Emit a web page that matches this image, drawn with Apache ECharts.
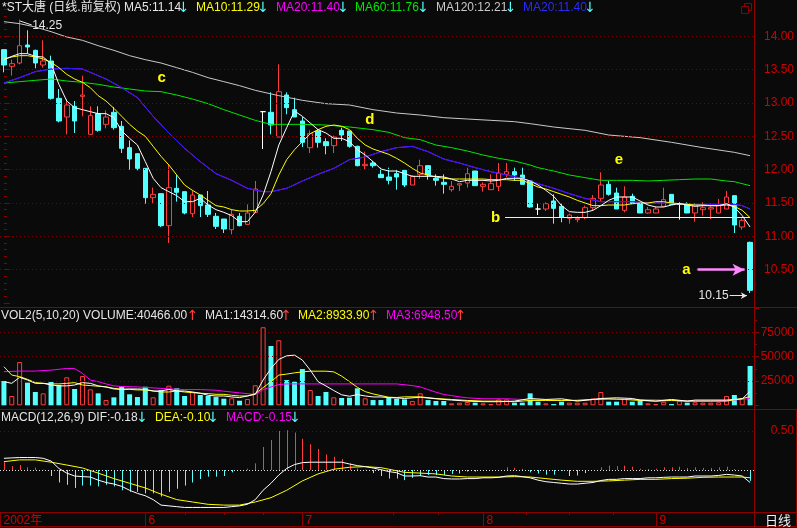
<!DOCTYPE html>
<html><head><meta charset="utf-8">
<script src="https://cdn.jsdelivr.net/npm/echarts@6/dist/echarts.min.js"></script>
<style>html,body{margin:0;padding:0;background:#0a0a0a;overflow:hidden}#c{width:797px;height:528px}</style>
</head><body><div id="c"></div>
<script>
// ---------- dates (trading days 2002) ----------
const mayDays = [8,9,10,13,14,15,16,17,20,21,22,23,24,27,28,29,30,31];
const junDays = [3,4,5,6,7,10,11,12,13,14,17,18,19,20,21,24,25,26,27,28];
const julDays = [1,2,3,4,5,8,9,10,11,12,15,16,17,18,19,22,23,24,25,26,29,30,31];
const augDays = [1,2,5,6,7,8,9,12,13,14,15,16,19,20,21,22,23,26,27,28,29,30];
const sepDays = [2,3,4,5,6,9,10,11,12,13,16,17,18];
const dates = [].concat(
  mayDays.map(d => '2002-05-' + d), junDays.map(d => '2002-06-' + d),
  julDays.map(d => '2002-07-' + d), augDays.map(d => '2002-08-' + d),
  sepDays.map(d => '2002-09-' + d));

// ---------- price OHLC ----------
const opens = [13.80,13.55,13.60,13.87,13.79,13.57,13.63,13.07,12.79,12.95,
  13.10,12.53,12.84,12.68,12.86,12.65,12.33,12.24,12.02,11.58,
  11.64,11.16,11.72,11.67,11.34,11.62,11.47,11.30,11.26,11.10,
  11.30,11.18,11.36,12.87,12.86,12.49,13.12,12.90,12.73,12.33,
  12.58,12.42,12.36,12.59,12.58,12.35,12.06,12.10,11.93,11.89,
  11.94,11.99,11.77,11.93,12.06,11.87,11.81,11.70,11.77,11.80,
  11.98,11.75,11.70,11.75,11.93,11.97,11.92,11.83,11.41,11.41,
  11.53,11.45,11.27,11.25,11.28,11.43,11.57,11.78,11.65,11.39,
  11.60,11.49,11.35,11.35,11.45,11.63,11.48,11.49,11.35,11.40,
  11.41,11.35,11.41,11.61,11.14,10.91];
const closes = [13.57,13.59,13.86,13.84,13.60,13.63,13.07,12.73,12.97,12.73,
  13.12,12.81,12.59,12.79,12.63,12.32,12.16,12.02,11.58,11.63,
  11.16,11.73,11.66,11.35,11.62,11.46,11.33,11.15,11.11,11.33,
  11.16,11.35,11.71,12.87,12.67,13.17,12.93,12.79,12.41,12.54,
  12.41,12.36,12.49,12.52,12.35,12.06,12.08,12.06,11.88,11.84,
  11.89,11.77,11.90,12.06,11.92,11.84,11.78,11.75,11.79,11.94,
  11.76,11.78,11.79,11.95,11.97,11.92,11.78,11.44,11.41,11.49,
  11.42,11.29,11.32,11.27,11.43,11.57,11.77,11.63,11.41,11.59,
  11.49,11.35,11.40,11.41,11.55,11.48,11.48,11.35,11.47,11.43,
  11.43,11.47,11.59,11.17,11.24,10.19];
const lows = [13.46,13.41,13.58,13.74,13.52,13.53,13.05,12.71,12.53,12.55,
  12.80,12.53,12.57,12.62,12.60,12.25,12.00,11.99,11.49,11.49,
  11.14,10.90,11.52,11.33,11.29,11.29,11.29,11.11,11.05,11.03,
  11.15,11.17,11.35,12.31,12.53,12.49,12.83,12.79,12.34,12.25,
  12.33,12.23,12.25,12.43,12.33,12.05,12.01,12.03,11.88,11.78,
  11.70,11.74,11.77,11.86,11.85,11.76,11.64,11.67,11.68,11.73,
  11.76,11.67,11.70,11.68,11.89,11.83,11.78,11.43,11.32,11.38,
  11.19,11.21,11.19,11.21,11.26,11.39,11.53,11.61,11.41,11.36,
  11.49,11.35,11.34,11.35,11.44,11.48,11.25,11.35,11.22,11.31,
  11.26,11.35,11.41,11.05,11.10,10.15];
const highs = [13.80,13.65,14.25,14.09,13.80,13.94,13.71,13.21,13.06,13.03,
  13.41,12.95,12.95,12.89,12.94,12.73,12.44,12.24,12.02,11.73,
  11.64,12.08,11.92,11.67,11.69,11.62,11.68,11.35,11.26,11.41,
  11.35,11.48,11.83,12.87,13.16,13.58,13.16,13.08,12.79,12.59,
  12.61,12.47,12.51,12.63,12.58,12.36,12.27,12.13,12.03,12.03,
  11.99,11.99,11.92,12.15,12.06,11.93,11.93,11.83,11.79,12.03,
  11.98,11.81,11.93,12.10,12.10,12.03,12.03,11.83,11.49,11.51,
  11.63,11.49,11.34,11.30,11.46,11.62,11.96,11.83,11.73,11.75,
  11.64,11.49,11.44,11.45,11.73,11.63,11.51,11.51,11.50,11.51,
  11.49,11.56,11.68,11.61,11.27,10.92];

// ---------- moving averages ----------
const ma5 = [13.65,13.70,13.74,13.74,13.70,13.69,13.59,13.28,13.03,12.93,
  12.90,12.87,12.84,12.84,12.78,12.58,12.47,12.37,12.12,11.87,
  11.73,11.67,11.61,11.52,11.52,11.57,11.47,11.40,11.36,11.31,
  11.22,11.22,11.36,11.62,11.97,12.37,12.63,12.88,12.80,12.70,
  12.60,12.55,12.47,12.47,12.42,12.30,12.22,12.12,12.01,11.98,
  11.98,11.94,11.90,11.90,11.90,11.90,11.89,11.86,11.82,11.84,
  11.84,11.84,11.83,11.84,11.87,11.87,11.87,11.83,11.77,11.69,
  11.60,11.46,11.37,11.36,11.36,11.39,11.46,11.54,11.59,11.59,
  11.59,11.53,11.47,11.44,11.44,11.47,11.49,11.47,11.45,11.46,
  11.46,11.46,11.49,11.44,11.31,11.14];
const ma10 = [13.66,13.69,13.71,13.71,13.69,13.66,13.61,13.53,13.43,13.36,
  13.31,13.23,13.11,13.03,12.92,12.80,12.68,12.58,12.50,12.35,
  12.20,12.07,11.92,11.77,11.69,11.62,11.54,11.46,11.44,11.40,
  11.38,11.38,11.39,11.49,11.64,11.92,12.15,12.30,12.42,12.54,
  12.60,12.65,12.67,12.65,12.60,12.47,12.37,12.31,12.27,12.23,
  12.17,12.10,12.02,11.95,11.92,11.89,11.87,11.86,11.86,11.86,
  11.86,11.86,11.85,11.85,11.85,11.84,11.84,11.79,11.74,11.71,
  11.67,11.63,11.59,11.54,11.50,11.46,11.46,11.47,11.47,11.47,
  11.49,11.50,11.50,11.52,11.52,11.50,11.49,11.48,11.47,11.47,
  11.46,11.46,11.47,11.45,11.39,11.28];
const ma20 = [[0,13.30],[2,13.38],[4,13.47],[6,13.51],[8,13.52],[10,13.51],[11,13.46],[13,13.36],
  [15,13.23],[17,13.08],[19,12.80],[21,12.55],[23,12.32],[25,12.12],[27,11.94],[29,11.84],
  [31,11.72],[33,11.67],[34,11.67],[36,11.72],[38,11.83],[40,11.93],[42,12.02],[44,12.15],
  [46,12.19],[48,12.27],[50,12.33],[52,12.35],[54,12.27],[56,12.16],[58,12.10],[60,12.03],
  [62,11.97],[64,11.92],[66,11.87],[68,11.79],[70,11.72],[72,11.64],[74,11.57],[76,11.52],
  [78,11.52],[80,11.52],[82,11.50],[84,11.50],[86,11.49],[88,11.48],[90,11.48],[92,11.48],
  [93,11.48],[94,11.46],[95,11.41]];
const ma60 = [[0,13.30],[2,13.32],[4,13.34],[6,13.36],[8,13.33],[10,13.31],[12,13.28],[14,13.24],
  [16,13.21],[18,13.18],[20,13.17],[22,13.12],[24,13.06],[26,12.99],[28,12.90],[30,12.82],
  [32,12.74],[34,12.68],[36,12.68],[38,12.68],[41,12.67],[44,12.64],[47,12.60],[49,12.56],
  [51,12.48],[53,12.45],[55,12.37],[57,12.33],[59,12.28],[61,12.22],[63,12.17],[65,12.13],
  [67,12.07],[68,12.03],[70,11.98],[72,11.92],[74,11.88],[76,11.84],[78,11.84],[80,11.84],
  [82,11.83],[84,11.84],[86,11.85],[88,11.86],[90,11.86],[92,11.83],[93,11.82],[94,11.79],[95,11.76]];
const ma120 = [[0,14.22],[2,14.19],[4,14.14],[6,14.07],[8,13.99],[10,13.94],[12,13.86],[14,13.79],
  [16,13.71],[18,13.65],[20,13.60],[22,13.53],[24,13.46],[26,13.38],[28,13.32],[30,13.26],
  [32,13.19],[35,13.11],[38,13.04],[41,12.99],[44,12.97],[47,12.90],[50,12.85],[53,12.82],
  [56,12.78],[59,12.76],[62,12.74],[65,12.72],[67,12.69],[70,12.64],[74,12.59],[77,12.52],
  [81,12.48],[85,12.41],[89,12.33],[93,12.26],[95,12.21]];

// ---------- volume ----------
const volumes = [25000,9600,44500,23300,13700,12300,24000,20900,28800,16800,
  30100,16400,12300,5400,8200,19800,11300,8500,19100,8200,
  15700,20200,17500,9600,13700,10600,9600,8500,6800,7200,
  4700,6500,20600,80300,61000,66900,26000,24300,37300,15700,
  9600,13700,8200,7500,7800,17500,7200,5400,5400,7800,
  6800,6100,4400,12300,5400,4400,4400,2000,2700,3400,
  2700,2000,1300,6100,6100,2700,2700,12300,3700,2000,
  1300,3700,2700,2700,2700,7200,13700,3700,3700,6500,
  3700,4400,2000,1300,3700,1300,4700,2700,3100,2700,
  2700,3100,9600,10600,7200,40466];
const volMa5 = [[0,24300],[1,22600],[2,28800],[3,26000],[4,22600],[5,22600],[6,20900],[7,20000],
  [8,20000],[9,20900],[10,23300],[11,22600],[12,20000],[13,18800],[14,16800],[15,16400],
  [16,16800],[17,16800],[18,16400],[19,14700],[20,14700],[21,16400],[22,14700],[23,14700],
  [24,13700],[25,12400],[26,10300],[27,9600],[28,9600],[29,8600],[30,7900],[31,9600],
  [32,11300],[33,26000],[34,37900],[35,47200],[36,50900],[37,51600],[38,46500],[39,36200],
  [40,24300],[41,19900],[42,15200],[43,10800],[44,9300],[45,11000],[46,9600],[47,8600],
  [48,8600],[49,7900],[50,7600],[51,7000],[53,8300],[55,6700],[57,5400],[59,4300],
  [61,3700],[63,3700],[65,4300],[67,7000],[69,6000],[71,6700],[73,4300],[75,6000],
  [76,7000],[78,7700],[80,7000],[81,5400],[83,4300],[85,6000],[87,4300],[88,5400],
  [90,5400],[92,5400],[93,6000],[94,6700],[95,14315]];
const volMa10 = [[0,39700],[1,31100],[2,29500],[3,26700],[4,23300],[5,22600],[6,22000],[7,22000],
  [8,22600],[9,23300],[10,20900],[11,20300],[12,19600],[13,19000],[14,17500],[15,16400],
  [16,16400],[17,15800],[18,15800],[19,14700],[20,13700],[21,13700],[22,14700],[23,13700],
  [24,13000],[25,12400],[26,12000],[27,11300],[28,11300],[29,10300],[30,9600],[31,9600],
  [32,12000],[33,18200],[34,24300],[35,31100],[36,32100],[37,33400],[38,34400],[39,35100],
  [40,35100],[41,35100],[42,34400],[43,30000],[44,24300],[45,18500],[46,14100],[47,11700],
  [48,10000],[49,8300],[50,8000],[51,8700],[53,8700],[55,7000],[57,6000],[59,5000],
  [61,4300],[63,4300],[65,3700],[67,5000],[69,5000],[71,5000],[73,5000],[75,6000],
  [77,6700],[79,6000],[81,5000],[83,4300],[85,5000],[87,4300],[88,4300],[90,4300],
  [92,4300],[94,7000],[95,8934]];
const volMa20 = [[0,34600],[2,35200],[4,35200],[6,36200],[8,37900],[9,37900],[10,32800],[11,26000],
  [12,24300],[13,22000],[14,20000],[15,19300],[17,18900],[19,17900],[21,16900],[23,16200],
  [25,16200],[27,15500],[28,14500],[30,12800],[32,11100],[33,16200],[34,18900],[35,21300],
  [36,22000],[50,22000],[52,20300],[53,18900],[54,16200],[55,13500],[56,11100],[57,10000],
  [58,8700],[59,7700],[61,6700],[64,6700],[66,6000],[69,5400],[72,5000],[75,6000],
  [78,6000],[81,6000],[84,5400],[87,4300],[90,4300],[92,5000],[94,6000],[95,6949]];

// ---------- MACD ----------
const macdHist = [0.10,0.05,0.064,0.035,0.03,0.005,-0.077,-0.16,-0.19,-0.23,
  -0.20,-0.20,-0.21,-0.19,-0.21,-0.26,-0.28,-0.28,-0.30,-0.30,
  -0.34,-0.28,-0.24,-0.20,-0.16,-0.115,-0.085,-0.085,-0.077,-0.03,
  -0.005,0.017,0.085,0.295,0.385,0.50,0.51,0.48,0.40,0.33,
  0.27,0.20,0.17,0.14,0.085,0.02,0.005,-0.04,-0.077,-0.11,
  -0.11,-0.13,-0.10,-0.077,-0.064,-0.064,-0.064,-0.05,-0.045,-0.02,
  -0.02,-0.01,0,0,0.035,0.03,0.015,-0.03,-0.045,-0.06,
  -0.06,-0.01,-0.077,-0.07,-0.04,0,0.035,0.056,0.05,0.056,
  0.043,0.017,0.013,0.017,0.035,0.035,0.043,0.026,0.035,0.026,
  0.026,0.035,0.043,0.013,0,-0.14];
const dif = [0.15,0.155,0.16,0.16,0.16,0.15,0.115,0.02,-0.04,-0.077,
  -0.085,-0.09,-0.13,-0.16,-0.18,-0.21,-0.26,-0.30,-0.33,-0.38,
  -0.45,-0.46,-0.47,-0.48,-0.48,-0.48,-0.48,-0.48,-0.48,-0.47,
  -0.46,-0.44,-0.38,-0.26,-0.17,-0.064,0.02,0.07,0.094,0.10,
  0.10,0.10,0.10,0.10,0.077,0.056,0.043,0.026,0.004,-0.02,
  -0.035,-0.077,-0.077,-0.073,-0.09,-0.09,-0.11,-0.115,-0.115,-0.11,
  -0.11,-0.10,-0.10,-0.094,-0.077,-0.073,-0.085,-0.10,-0.13,-0.15,
  -0.16,-0.17,-0.18,-0.18,-0.17,-0.16,-0.135,-0.12,-0.12,-0.11,
  -0.11,-0.11,-0.10,-0.10,-0.094,-0.09,-0.09,-0.09,-0.077,-0.077,
  -0.077,-0.07,-0.056,-0.065,-0.077,-0.16];
const dea = [[0,0.107],[2,0.13],[4,0.13],[6,0.10],[8,0.064],[10,0.026],[12,-0.04],[14,-0.11],
  [16,-0.17],[18,-0.23],[20,-0.31],[22,-0.38],[24,-0.41],[26,-0.44],[28,-0.45],[30,-0.45],
  [32,-0.41],[34,-0.355],[36,-0.26],[38,-0.14],[40,-0.05],[42,0.01],[44,0.035],[46,0.043],
  [48,0.03],[49,0.01],[50,-0.01],[51,-0.03],[53,-0.04],[55,-0.05],[57,-0.077],[59,-0.09],
  [61,-0.09],[63,-0.09],[65,-0.085],[67,-0.09],[69,-0.11],[71,-0.13],[73,-0.145],[75,-0.145],
  [77,-0.14],[79,-0.13],[81,-0.12],[83,-0.12],[85,-0.11],[87,-0.105],[89,-0.094],[91,-0.09],
  [93,-0.09],[94,-0.09],[95,-0.10]];

// ---------- axis ticks / labels ----------
const priceTicks = [10.5, 11, 11.5, 12, 12.5, 13, 13.5, 14];
const volTicks = [25000, 50000, 75000];
const macdTicks = [0.5];
const monthStarts = [-0.5, 18, 38, 61, 83];
const monthNames = ['2002年', '6', '7', '8', '9'];
const subTicks = [23, 28, 33, 49.5, 55.25, 66.5, 72, 77.5];

// annotations
const noteLetters = ['c', 'd', 'e', 'b', 'a'];
const noteIdx = [20.1, 46.6, 78.3, 62.6, 86.9];
const notePrice = [13.38, 12.74, 12.15, 11.28, 10.50];

// ---------- styling ----------
const BG = '#0a0a0a', RED = '#ff3c3c', CYAN = '#54ffff', BORDER = '#8c0000', LABEL = '#d00000', GRIDC = '#800000';
const FF = '"Liberation Sans", Arial, "Noto Sans CJK SC", sans-serif';

const candleData = opens.map((o, i) => {
  const item = { value: [o, closes[i], lows[i], highs[i]] };
  if (o === closes[i]) item.itemStyle = { color: '#ffffff', color0: '#ffffff', borderColor: '#ffffff', borderColor0: '#ffffff' };
  return item;
});
const isUp = closes.map((c, i) => c > opens[i] || (c === opens[i] && (i === 0 || c >= closes[i - 1])));
const volData = volumes.map((v, i) => ({
  value: v,
  itemStyle: isUp[i] ? { color: BG, borderColor: RED, borderWidth: 1 } : { color: CYAN, borderColor: CYAN, borderWidth: 0 }
}));

const near = (arr, v) => arr.some(t => Math.abs(t - v) < 1e-6);

function lineS(data, color, xi, yi, z) {
  return { type: 'line', xAxisIndex: xi, yAxisIndex: yi, data: data, showSymbol: false, symbol: 'none',
    connectNulls: true, silent: true, animation: false, z: z || 3, clip: false,
    lineStyle: { color: color, width: 1 } };
}
function gridMarks(vals, color, dash) {
  return { silent: true, animation: false, symbol: ['none', 'none'], label: { show: false },
    lineStyle: { color: color, type: dash, width: 1 }, emphasis: { disabled: true },
    data: vals.map(v => ({ yAxis: v })) };
}

const sideAxis = (gi, min, max, interval, ticks, fmt, tickLen, minorSplit) => ({
  type: 'value', gridIndex: gi, position: 'right', min: min, max: max, interval: interval,
  axisLine: { show: false },
  axisTick: { show: tickLen > 0, length: tickLen, lineStyle: { color: BORDER } },
  minorTick: { show: minorSplit > 0, splitNumber: minorSplit || 5, length: 3, lineStyle: { color: BORDER } },
  splitLine: { show: false }, minorSplitLine: { show: false },
  axisLabel: { color: LABEL, fontSize: 12, fontFamily: FF, align: 'right', margin: 40,
    formatter: v => near(ticks, v) ? fmt(v) : '' }
});

const option = {
  backgroundColor: BG,
  animation: false,
  grid: [
    { left: 0, right: 43, top: 3, bottom: 225 },      // price 10.0 .. 14.5
    { left: 0, right: 43, top: 308.1, bottom: 122.7 }, // volume 0 .. 100000
    { left: 0, right: 43, top: 392, bottom: 19 },      // macd -0.5 .. 1.0
    { left: 0, right: 43, top: 512, bottom: 1 }        // date strip
  ],
  xAxis: [
    { type: 'category', gridIndex: 0, data: dates, boundaryGap: true, show: false },
    { type: 'category', gridIndex: 1, data: dates, boundaryGap: true, show: false },
    { type: 'category', gridIndex: 2, data: dates, boundaryGap: true, show: false },
    { type: 'value', gridIndex: 3, min: -0.5, max: 95.5, show: false },
    { type: 'value', gridIndex: 0, min: -0.5, max: 95.5, show: false }
  ],
  yAxis: [
    sideAxis(0, 10, 14.5, 0.5, priceTicks, v => v.toFixed(2), 6, 5),
    sideAxis(1, 0, 100000, 25000, volTicks, v => String(Math.round(v)), 5, 2),
    sideAxis(2, -0.5, 1.0, 0.5, macdTicks, v => v.toFixed(2), 0, 0),
    { type: 'value', gridIndex: 3, min: 0, max: 1, show: false }
  ],
  series: [
    // price gridlines + MA120
    Object.assign(lineS(ma120, '#c8c8c8', 0, 0, 3), { markLine: gridMarks(priceTicks, GRIDC, [1, 3]) }),
    {
      type: 'candlestick', xAxisIndex: 0, yAxisIndex: 0, data: candleData, barWidth: 5, silent: true,
      animation: false, z: 2, clip: false,
      itemStyle: { color: BG, color0: CYAN, borderColor: RED, borderColor0: CYAN, borderWidth: 1 }
    },
    lineS(ma60, '#00e600', 0, 0, 3),
    lineS(ma20, '#ff00ff', 0, 0, 3),
    lineS(ma20, '#1e1eff', 0, 0, 4),
    lineS(ma10, '#ffff00', 0, 0, 5),
    lineS(ma5, '#ffffff', 0, 0, 6),
    // annotation helper on a value axis of the price grid
    {
      type: 'line', xAxisIndex: 4, yAxisIndex: 0, data: [], silent: true, animation: false, z: 8,
      markPoint: {
        silent: true, animation: false, symbol: 'rect', symbolSize: 1, itemStyle: { color: 'rgba(0,0,0,0)' },
        data: noteLetters.map((t, k) => ({
          name: t, coord: [noteIdx[k], notePrice[k]],
          label: { show: true, formatter: t, position: 'inside', color: '#ffff00', fontSize: 15,
            fontWeight: 'bold', fontFamily: 'Arial, "Liberation Sans", sans-serif' }
        })).concat([
          { name: 'hi', coord: [2, highs[2]],
            label: { show: true, formatter: highs[2].toFixed(2), position: [13, 7], align: 'left', verticalAlign: 'middle',
              color: '#e6e6e6', fontSize: 12, fontFamily: FF } },
          { name: 'lo', coord: [95, lows[95]],
            label: { show: true, formatter: lows[95].toFixed(2), position: [-21, 3.5], align: 'right', verticalAlign: 'middle',
              color: '#e6e6e6', fontSize: 12, fontFamily: FF } }
        ])
      },
      markLine: {
        silent: true, animation: false, label: { show: false }, symbol: ['none', 'none'],
        data: [
          [{ coord: [63.8, 11.28], lineStyle: { color: '#ffff60', width: 1, type: 'solid' } }, { coord: [95, 11.28] }],
          [{ coord: [88.3, 10.50], lineStyle: { color: '#ff88ff', width: 2.5, type: 'solid' }, symbol: 'none' },
           { coord: [94.3, 10.50], symbol: 'arrow', symbolSize: [9, 12] }],
          [{ coord: [92.4, 10.11], lineStyle: { color: '#e6e6e6', width: 1, type: 'solid' }, symbol: 'none' },
           { coord: [94.6, 10.11], symbol: 'arrow', symbolSize: [5, 6] }],
          [{ coord: [2.05, 14.23], lineStyle: { color: '#e6e6e6', width: 1, type: 'solid' } }, { coord: [3.55, 14.17] }]
        ]
      }
    },
    // volume
    {
      type: 'bar', xAxisIndex: 1, yAxisIndex: 1, data: volData, barWidth: 5, silent: true, animation: false, z: 2,
      markLine: gridMarks(volTicks, GRIDC, [1, 3])
    },
    lineS(volMa20, '#ff00ff', 1, 1, 3),
    lineS(volMa10, '#ffff00', 1, 1, 4),
    lineS(volMa5, '#ffffff', 1, 1, 5),
    // macd histogram
    {
      type: 'custom', xAxisIndex: 2, yAxisIndex: 2, silent: true, animation: false, z: 2,
      data: macdHist.map((v, i) => [i, v]),
      renderItem: function (params, api) {
        const i = api.value(0), v = api.value(1);
        const p0 = api.coord([i, 0]), p1 = api.coord([i, v]);
        const x = Math.round(p0[0]) + 0.5;
        return { type: 'line', shape: { x1: x, y1: p0[1], x2: x, y2: p1[1] },
          style: { stroke: v >= 0 ? RED : CYAN, lineWidth: 1 } };
      }
    },
    Object.assign(lineS(dif, '#ffffff', 2, 2, 5), {
      markLine: {
        silent: true, animation: false, symbol: ['none', 'none'], label: { show: false },
        data: [
          { yAxis: macdTicks[0], lineStyle: { color: GRIDC, type: [1, 3], width: 1 } },
          { yAxis: 0, lineStyle: { color: '#e0e0e0', type: [1, 2], width: 1 } }
        ]
      }
    }),
    lineS(dea, '#ffff00', 2, 2, 4),
    // date strip: month dividers with labels
    {
      type: 'custom', xAxisIndex: 3, yAxisIndex: 3, silent: true, animation: false, clip: false,
      data: monthStarts.map(m => [m, 0]),
      renderItem: function (params, api) {
        const cs = params.coordSys;
        const x = Math.round(api.coord([api.value(0), 0])[0]) + 0.5;
        return { type: 'group', children: [
          { type: 'line', shape: { x1: x, y1: cs.y, x2: x, y2: cs.y + cs.height }, style: { stroke: BORDER, lineWidth: 1 } },
          { type: 'text', style: { text: monthNames[params.dataIndex], x: x + 3, y: cs.y + cs.height / 2 + 1,
            fill: LABEL, font: '12px ' + FF, align: 'left', verticalAlign: 'middle',
            textAlign: 'left', textVerticalAlign: 'middle' } }
        ] };
      }
    },
    {
      type: 'custom', xAxisIndex: 3, yAxisIndex: 3, silent: true, animation: false, clip: false,
      data: subTicks.map(m => [m, 0]),
      renderItem: function (params, api) {
        const cs = params.coordSys;
        const x = Math.round(api.coord([api.value(0), 0])[0]) + 0.5;
        return { type: 'line', shape: { x1: x, y1: cs.y, x2: x, y2: cs.y + 3 }, style: { stroke: BORDER, lineWidth: 1 } };
      }
    }
  ],
  graphic: [
    { type: 'line', silent: true, shape: { x1: 754.5, y1: 0, x2: 754.5, y2: 528 }, style: { stroke: BORDER, lineWidth: 1 }, z: 50 },
    { type: 'line', silent: true, shape: { x1: 0, y1: 307.5, x2: 797, y2: 307.5 }, style: { stroke: BORDER, lineWidth: 1 }, z: 50 },
    { type: 'line', silent: true, shape: { x1: 0, y1: 409.5, x2: 797, y2: 409.5 }, style: { stroke: BORDER, lineWidth: 1 }, z: 50 },
    { type: 'line', silent: true, shape: { x1: 0, y1: 512.5, x2: 797, y2: 512.5 }, style: { stroke: BORDER, lineWidth: 1 }, z: 50 },
    { type: 'line', silent: true, shape: { x1: 0, y1: 526.5, x2: 797, y2: 526.5 }, style: { stroke: BORDER, lineWidth: 1 }, z: 50 },
    { type: 'line', silent: true, shape: { x1: 796.5, y1: 409, x2: 796.5, y2: 527 }, style: { stroke: BORDER, lineWidth: 1 }, z: 50 },
    // window icon
    { type: 'rect', silent: true, shape: { x: 744.5, y: 3.5, width: 7, height: 7 }, style: { stroke: BORDER, fill: BG, lineWidth: 1 }, z: 50 },
    { type: 'rect', silent: true, shape: { x: 741.5, y: 6.5, width: 7, height: 7 }, style: { stroke: BORDER, fill: BG, lineWidth: 1 }, z: 51 },
    { type: 'text', silent: true, x: 765, y: 520, style: { text: '日线', fill: '#f0f0f0', font: '13px "Noto Sans CJK SC", sans-serif', textVerticalAlign: 'middle', verticalAlign: 'middle' }, z: 50 }
  ].concat([
    // header texts: [text, x, y, color]
    ['*ST大唐 (日线.前复权) MA5:11.14', 2, 8, '#e6e6e6'],
    ['MA10:11.29', 196, 8, '#ffff00'],
    ['MA20:11.40', 276, 8, '#ff00ff'],
    ['MA60:11.76', 355, 8, '#00e600'],
    ['MA120:12.21', 436, 8, '#c8c8c8'],
    ['MA20:11.40', 523, 8, '#2a2aff'],
    ['VOL2(5,10,20) VOLUME:40466.00', 1, 316, '#e6e6e6'],
    ['MA1:14314.60', 205, 316, '#e6e6e6'],
    ['MA2:8933.90', 298, 316, '#ffff00'],
    ['MA3:6948.50', 386, 316, '#ff00ff'],
    ['MACD(12,26,9) DIF:-0.18', 1, 418, '#e6e6e6'],
    ['DEA:-0.10', 155, 418, '#ffff00'],
    ['MACD:-0.15', 226, 418, '#ff00ff']
  ].map(t => ({ type: 'text', silent: true, x: t[1], y: t[2], z: 60,
    style: { text: t[0], fill: t[3], font: '12px ' + FF, textVerticalAlign: 'middle', verticalAlign: 'middle' } })))
  .concat([
    // arrows: [glyph, centerX, y, color]
    ['↓', 183.5, 8, CYAN], ['↓', 263, 8, CYAN], ['↓', 343, 8, CYAN], ['↓', 423, 8, CYAN], ['↓', 510.5, 8, CYAN], ['↓', 590, 8, CYAN],
    ['↑', 192.5, 316, RED], ['↑', 286, 316, RED], ['↑', 373.5, 316, RED], ['↑', 460.5, 316, RED],
    ['↓', 142, 418, CYAN], ['↓', 213, 418, CYAN], ['↓', 295, 418, CYAN]
  ].map(t => ({ type: 'text', silent: true, x: t[1], y: t[2], z: 60,
    style: { text: t[0], fill: t[3], font: '14px "DejaVu Sans", sans-serif', textAlign: 'center', align: 'center',
      textVerticalAlign: 'middle', verticalAlign: 'middle' } })))
};

const chart = echarts.init(document.getElementById('c'), null, { renderer: 'canvas', width: 797, height: 528 });
chart.setOption(option);
</script>
</body></html>
